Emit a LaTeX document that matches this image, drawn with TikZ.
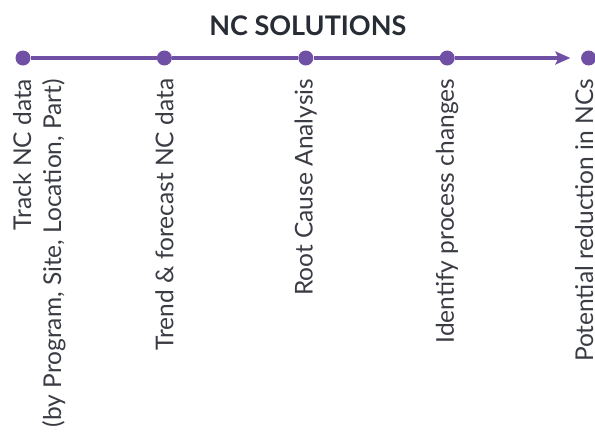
\documentclass[tikz,border=0pt]{standalone}
\usepackage{fontspec}
\setmainfont{Lato}
\usetikzlibrary{positioning, arrows.meta}
\definecolor{ncpurple}{RGB}{111,80,165}
\definecolor{nctext}{RGB}{58,60,68}
\definecolor{nctitle}{RGB}{40,44,52}
\tikzset{%
  lnk/.style={draw=ncpurple, line width=3.5pt},
  arw/.style={lnk, -{Stealth[length=15pt, width=13pt, inset=3pt]}},
  dot/.style={circle, fill=ncpurple, minimum size=15pt, inner sep=0pt},
  lbl/.style={rotate=90, inner sep=0pt, text=nctext, font=\fontsize{24.5}{30}\selectfont},
  ttl/.style={inner sep=0pt, text=nctitle, font=\fontsize{27}{30}\selectfont\bfseries}
}
\begin{document}
\begin{tikzpicture}
        \useasboundingbox (0,0) rectangle (595pt,-437pt);
        \node[dot] (d0) at (23pt,-58pt) {};
        \node[dot] (d1) [right = 126pt of d0] {};
        \node[dot] (d2) [right = 126pt of d1] {};
        \node[dot] (d3) [right = 126pt of d2] {};
        \node[dot] (d4) [right = 126pt of d3] {};
        \coordinate[left = 10.5pt of d4] (tip);
        \node[ttl] (title) [above = 14pt of d2, xshift=2pt] {NC SOLUTIONS};
        \node[lbl, align=right] (t0) [below = 13pt of d0, anchor=north east, yshift=10pt]
          {Track NC data\\(by Program, Site, Location, Part)};
        \node[lbl] (t1) [below = 13pt of d1, anchor=east] {Trend \& forecast NC data};
        \node[lbl] (t2) [below = 13pt of d2, anchor=east] {Root Cause Analysis};
        \node[lbl] (t3) [below = 13pt of d3, anchor=east] {Identify process changes};
        \node[lbl] (t4) [below = 13pt of d4, anchor=east, yshift=4.5pt] {Potential reduction in NCs};
        \path[lnk]
        (d0) edge (d1)
        (d1) edge (d2)
        (d2) edge (d3)
        (d3) edge[arw] (tip);
      \end{tikzpicture}
\end{document}
